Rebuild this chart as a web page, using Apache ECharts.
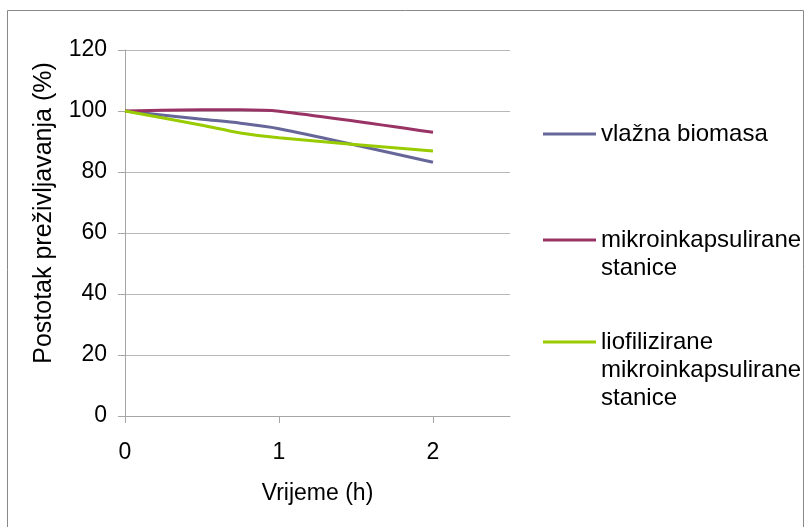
<!DOCTYPE html>
<html>
<head>
<meta charset="utf-8">
<script src="https://cdn.jsdelivr.net/npm/echarts@6/dist/echarts.min.js"></script>
<style>html,body{margin:0;padding:0;background:#fff}#c{width:807px;height:527px}</style>
</head>
<body>
<div id="c"></div>
<script>
// Data
var timeHours = [0, 0.5, 0.75, 1, 2];
var vlaznaBiomasa = [100, 97.3, 96.0, 94.2, 83.2];
var mikroStanice = [100, 100.4, 100.4, 99.9, 93.0];
var liofStanice = [100, 95.3, 92.8, 91.2, 86.9];
var seriesNames = ['vlažna biomasa', 'mikroinkapsulirane stanice', 'liofilizirane mikroinkapsulirane stanice'];
var legendLabels = ['vlažna biomasa', 'mikroinkapsulirane\nstanice', 'liofilizirane\nmikroinkapsulirane\nstanice'];
var xTicks = [0, 1, 2];
var yTicks = [0, 20, 40, 60, 80, 100, 120];
var xAxisTitle = 'Vrijeme (h)';
var yAxisTitle = 'Postotak preživljavanja (%)';

var colors = ['#666699', '#993366', '#99CC00'];
var FONT = 'Liberation Sans, Arial, sans-serif';
var FS = 23;
var LFS = 24;
var LH = 28;

function pairs(xs, ys) { return xs.map(function (x, i) { return [x, ys[i]]; }); }
var allSeries = [vlaznaBiomasa, mikroStanice, liofStanice];
var legendCenters = [134, 240, 342];

var legends = seriesNames.map(function (n, i) {
  var lines = legendLabels[i].split('\n');
  var pad = [];
  for (var k = 1; k < lines.length; k++) pad.push(' ');
  var text = pad.concat(lines).join('\n');
  var boxH = (2 * lines.length - 1) * LH;
  return {
    data: [n], left: 543, top: legendCenters[i] - boxH / 2, padding: 0,
    orient: 'vertical', icon: 'rect', itemWidth: 53, itemHeight: 3,
    selectedMode: false,
    formatter: function () { return text; },
    textStyle: { fontFamily: FONT, fontSize: LFS, color: '#000', lineHeight: LH }
  };
});

var chart = echarts.init(document.getElementById('c'), null, { renderer: 'canvas' });
chart.setOption({
  animation: false,
  backgroundColor: '#fff',
  color: colors,
  graphic: [{ type: 'rect', shape: { x: 7.5, y: 10.5, width: 796, height: 540 },
    style: { fill: 'none', stroke: '#888', lineWidth: 1 }, silent: true, z: -1 }],
  legend: legends,
  grid: { left: 125, right: 297, top: 50, bottom: 111 },
  xAxis: {
    type: 'value', min: 0, max: 2.5, interval: 1,
    name: xAxisTitle, nameLocation: 'middle', nameGap: 66,
    nameTextStyle: { fontFamily: FONT, fontSize: FS, color: '#000' },
    axisLine: { show: true, lineStyle: { color: '#a6a6a6', width: 1 } },
    axisTick: { show: true, length: 7, lineStyle: { color: '#a6a6a6' }, customValues: xTicks },
    axisLabel: { fontFamily: FONT, fontSize: FS, color: '#000', margin: 25, customValues: xTicks },
    splitLine: { show: false }
  },
  yAxis: {
    type: 'value', min: 0, max: 120, interval: 20,
    name: yAxisTitle, nameLocation: 'middle', nameGap: 68, nameRotate: 90,
    nameTextStyle: { fontFamily: FONT, fontSize: 25, color: '#000', padding: [0, 0, 0, 40] },
    axisLine: { show: true, lineStyle: { color: '#a6a6a6', width: 1 } },
    axisTick: { show: true, length: 7, lineStyle: { color: '#a6a6a6' }, customValues: yTicks },
    axisLabel: { fontFamily: FONT, fontSize: FS, color: '#000', margin: 18, customValues: yTicks },
    splitLine: { show: true, lineStyle: { color: '#b8b8b8', width: 1 } }
  },
  series: seriesNames.map(function (n, i) {
    return { name: n, type: 'line', smooth: 0.3, showSymbol: false, symbol: 'none',
      data: pairs(timeHours, allSeries[i]), lineStyle: { width: 3, color: colors[i] },
      itemStyle: { color: colors[i] } };
  })
});
</script>
</body>
</html>
